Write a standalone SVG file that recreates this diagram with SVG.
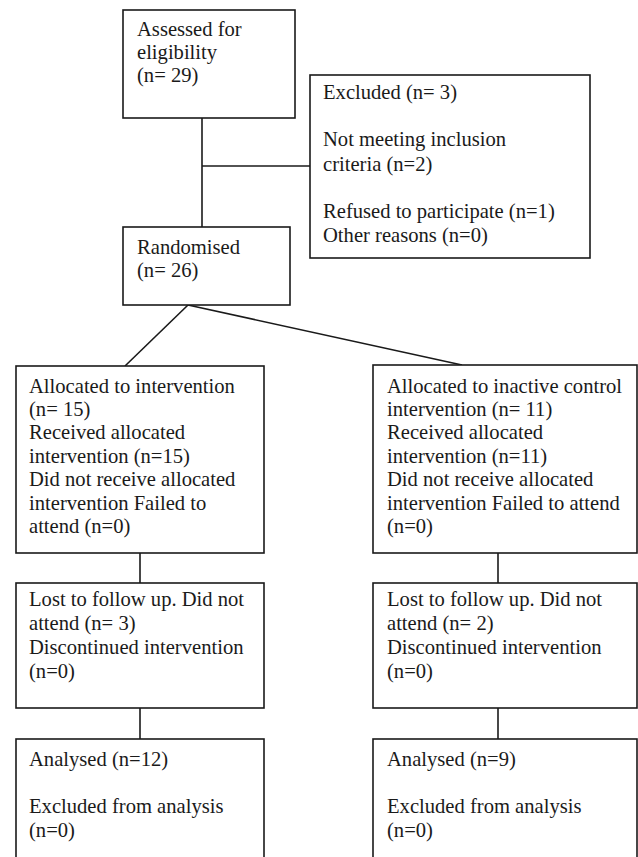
<svg xmlns="http://www.w3.org/2000/svg" width="638" height="857" viewBox="0 0 638 857">
<style>
.box{fill:#fff;stroke:#1a1a1a;stroke-width:1.6}
.t{font-family:"Liberation Serif","Times New Roman",serif;font-size:20.6px;fill:#1a1a1a}
.c{stroke:#1a1a1a;stroke-width:1.6;fill:none}
</style>
<rect width="638" height="857" fill="#fff"/>
<g id="connectors">
<line class="c" x1="202" y1="118" x2="202" y2="227"/>
<line class="c" x1="202" y1="166" x2="310" y2="166"/>
<line class="c" x1="188" y1="305" x2="125" y2="366"/>
<line class="c" x1="188" y1="305" x2="462" y2="365"/>
<line class="c" x1="140" y1="553" x2="140" y2="583"/>
<line class="c" x1="498" y1="553" x2="498" y2="583"/>
<line class="c" x1="140" y1="708" x2="140" y2="739"/>
<line class="c" x1="498" y1="708" x2="498" y2="739"/>
</g>
<g id="assessed">
<rect class="box" x="123" y="10" width="172" height="108"/>
<text class="t" x="137" y="36">Assessed for</text>
<text class="t" x="137" y="59">eligibility</text>
<text class="t" x="137" y="82">(n= 29)</text>
</g>
<g id="excluded">
<rect class="box" x="310" y="75" width="280" height="183"/>
<text class="t" x="323" y="99">Excluded (n= 3)</text>
<text class="t" x="323" y="146">Not meeting inclusion</text>
<text class="t" x="323" y="171">criteria (n=2)</text>
<text class="t" x="323" y="218">Refused to participate (n=1)</text>
<text class="t" x="323" y="242">Other reasons (n=0)</text>
</g>
<g id="randomised">
<rect class="box" x="123" y="227" width="167" height="78"/>
<text class="t" x="137" y="254">Randomised</text>
<text class="t" x="137" y="277">(n= 26)</text>
</g>
<g id="alloc-intervention">
<rect class="box" x="16" y="366" width="248" height="187"/>
<text class="t" x="29" y="393">Allocated to intervention</text>
<text class="t" x="29" y="416">(n= 15)</text>
<text class="t" x="29" y="439">Received allocated</text>
<text class="t" x="29" y="463">intervention (n=15)</text>
<text class="t" x="29" y="486">Did not receive allocated</text>
<text class="t" x="29" y="510">intervention Failed to</text>
<text class="t" x="29" y="533">attend (n=0)</text>
</g>
<g id="alloc-control">
<rect class="box" x="373" y="365" width="264" height="188"/>
<text class="t" x="387" y="393">Allocated to inactive control</text>
<text class="t" x="387" y="416">intervention (n= 11)</text>
<text class="t" x="387" y="439">Received allocated</text>
<text class="t" x="387" y="463">intervention (n=11)</text>
<text class="t" x="387" y="486">Did not receive allocated</text>
<text class="t" x="387" y="510">intervention Failed to attend</text>
<text class="t" x="387" y="533">(n=0)</text>
</g>
<g id="lost-intervention">
<rect class="box" x="16" y="583" width="248" height="125"/>
<text class="t" x="29" y="606">Lost to follow up. Did not</text>
<text class="t" x="29" y="630">attend (n= 3)</text>
<text class="t" x="29" y="654">Discontinued intervention</text>
<text class="t" x="29" y="678">(n=0)</text>
</g>
<g id="lost-control">
<rect class="box" x="373" y="583" width="264" height="125"/>
<text class="t" x="387" y="606">Lost to follow up. Did not</text>
<text class="t" x="387" y="630">attend (n= 2)</text>
<text class="t" x="387" y="654">Discontinued intervention</text>
<text class="t" x="387" y="678">(n=0)</text>
</g>
<g id="analysed-intervention">
<rect class="box" x="16" y="739" width="248" height="140"/>
<text class="t" x="29" y="766">Analysed (n=12)</text>
<text class="t" x="29" y="813">Excluded from analysis</text>
<text class="t" x="29" y="837">(n=0)</text>
</g>
<g id="analysed-control">
<rect class="box" x="373" y="739" width="264" height="140"/>
<text class="t" x="387" y="766">Analysed (n=9)</text>
<text class="t" x="387" y="813">Excluded from analysis</text>
<text class="t" x="387" y="837">(n=0)</text>
</g>
</svg>
